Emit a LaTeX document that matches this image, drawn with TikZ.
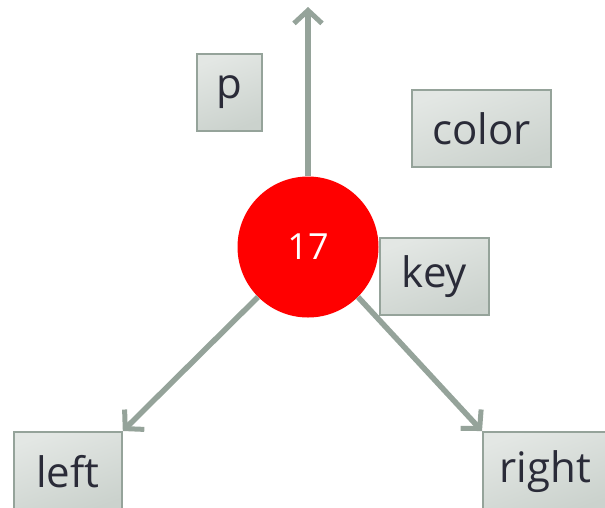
\documentclass[tikz,border=0pt]{standalone}
\usepackage{fontspec}
\setmainfont{Open Sans}
\usetikzlibrary{arrows.meta,shadings}
\definecolor{edgegray}{HTML}{95A39A}
\definecolor{boxtop}{HTML}{E3E7E4}
\definecolor{boxbot}{HTML}{CBD2CD}
\definecolor{txt}{HTML}{2A2B38}
\tikzset{
  field/.style={draw=edgegray, line width=1.8pt, inner sep=0pt, anchor=north west,
    top color=boxtop, bottom color=boxbot, shading angle=20, text=txt,
    font=\fontsize{42}{50}\selectfont},
  link/.style={draw=edgegray, line width=5.5pt, -{Straight Barb[length=13pt,width=28pt,line width=5pt]}},
}
\begin{document}
\begin{tikzpicture}[x=1pt,y=-1pt]
\useasboundingbox (0,0) rectangle (605,507);
\node[circle, fill=red, minimum size=141pt, inner sep=0pt, text=white,
  font=\fontsize{36}{40}\selectfont] (n) at (308,247) {17};
\node[field, minimum width=65pt, minimum height=77pt] (p) at (196,53) {p};
\node[field, minimum width=139pt, minimum height=77pt] (color) at (411,89) {color};
\node[field, minimum width=109pt, minimum height=77pt] (key) at (379,237) {key};
\node[field, minimum width=108pt, minimum height=80pt] (left) at (13,431) {left};
\node[field, minimum width=125pt, minimum height=80pt] (right) at (482,431) {right};
\coordinate (top) at (308,7);
\draw[link] (n.north) -- (top);
\draw[link] (n.225) -- (left.north east);
\draw[link] (n.-45) -- (right.north west);
\end{tikzpicture}
\end{document}
